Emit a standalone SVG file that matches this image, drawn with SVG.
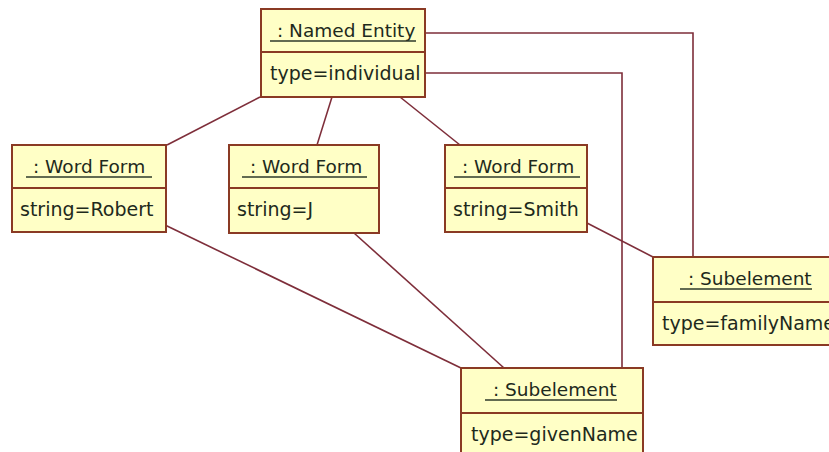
<svg xmlns="http://www.w3.org/2000/svg" width="829" height="452" viewBox="0 0 829 452">
  <defs>
    <style>
      .box { fill: #FFFFC6; stroke: #8A3A24; stroke-width: 2; }
      .div { stroke: #8A3A24; stroke-width: 2; }
      .ul { stroke: #2E3A2A; stroke-width: 1.5; }
      .link { fill: none; stroke: #7E2E3A; stroke-width: 1.6; }
      .txt { font-family: "DejaVu Sans", Tahoma, sans-serif; font-size: 18.5px; fill: #1E2A1C; }
      .attr { font-size: 19px; }
    </style>
  </defs>
  <rect width="829" height="452" fill="#FFFFFF"/>

  <!-- connectors -->
  <g id="connectors">
    <polyline class="link" points="425,33 693,33 693,257"/>
    <polyline class="link" points="425,73 622,73 622,368"/>
    <line class="link" x1="260" y1="97" x2="167" y2="145"/>
    <line class="link" x1="332" y1="97" x2="317" y2="145"/>
    <line class="link" x1="400" y1="97" x2="460" y2="145"/>
    <line class="link" x1="165" y1="225" x2="461" y2="368"/>
    <line class="link" x1="354" y1="233" x2="504" y2="368"/>
    <line class="link" x1="587" y1="223" x2="653" y2="257"/>
  </g>

  <!-- : Named Entity -->
  <g id="named-entity">
    <rect class="box" x="261" y="9" width="164" height="88"/>
    <line class="div" x1="261" y1="52" x2="425" y2="52"/>
    <text class="txt" x="277" y="37">: Named Entity</text>
    <line class="ul" x1="270" y1="41" x2="416" y2="41"/>
    <text class="txt attr" x="270" y="80">type=individual</text>
  </g>

  <!-- : Word Form (Robert) -->
  <g id="word-form-robert">
    <rect class="box" x="12" y="145" width="154" height="87"/>
    <line class="div" x1="12" y1="188" x2="166" y2="188"/>
    <text class="txt" x="33" y="173">: Word Form</text>
    <line class="ul" x1="26" y1="177" x2="152" y2="177"/>
    <text class="txt attr" x="20" y="216">string=Robert</text>
  </g>

  <!-- : Word Form (J) -->
  <g id="word-form-j">
    <rect class="box" x="229" y="145" width="150" height="88"/>
    <line class="div" x1="229" y1="188" x2="379" y2="188"/>
    <text class="txt" x="250" y="173">: Word Form</text>
    <line class="ul" x1="242" y1="177" x2="367" y2="177"/>
    <text class="txt attr" x="237" y="216">string=J</text>
  </g>

  <!-- : Word Form (Smith) -->
  <g id="word-form-smith">
    <rect class="box" x="445" y="145" width="142" height="87"/>
    <line class="div" x1="445" y1="188" x2="587" y2="188"/>
    <text class="txt" x="462" y="173">: Word Form</text>
    <line class="ul" x1="454" y1="177" x2="580" y2="177"/>
    <text class="txt attr" x="453" y="216">string=Smith</text>
  </g>

  <!-- : Subelement (familyName) -->
  <g id="subelement-family">
    <rect class="box" x="653" y="257" width="200" height="88"/>
    <line class="div" x1="653" y1="302" x2="853" y2="302"/>
    <text class="txt" x="688" y="285">: Subelement</text>
    <line class="ul" x1="680" y1="289" x2="812" y2="289"/>
    <text class="txt attr" x="662" y="330">type=familyName</text>
  </g>

  <!-- : Subelement (givenName) -->
  <g id="subelement-given">
    <rect class="box" x="461" y="368" width="182" height="100"/>
    <line class="div" x1="461" y1="413" x2="643" y2="413"/>
    <text class="txt" x="493" y="396">: Subelement</text>
    <line class="ul" x1="485" y1="400" x2="617" y2="400"/>
    <text class="txt attr" x="471" y="441">type=givenName</text>
  </g>
</svg>
